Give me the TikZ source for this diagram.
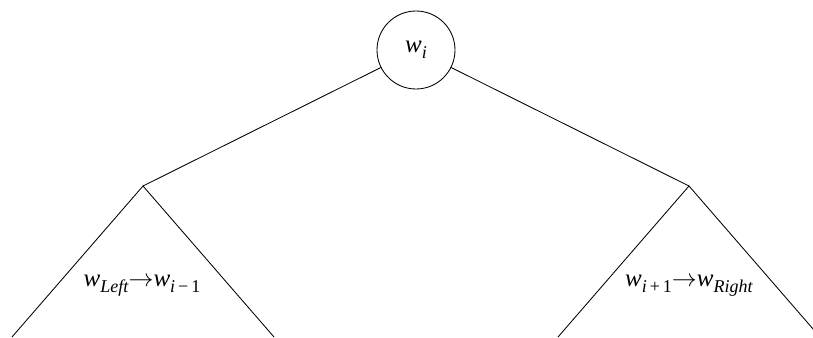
\documentclass[tikz,border=0pt]{standalone}
\usepackage{fontspec}
\setmainfont{Liberation Serif}
\newcommand{\mysub}[1]{\raisebox{-6pt}{\fontsize{18}{21}\selectfont #1}}
\newcommand{\mysym}[1]{\textit{#1}}
\begin{document}
\begin{tikzpicture}[x=1pt,y=-1pt,line width=0.85pt,
  lbl/.style={inner sep=0pt,font=\fontsize{25}{29}\selectfont},
  rootnode/.style={circle,draw,minimum size=78pt,inner sep=0pt,font=\fontsize{25}{29}\selectfont}]
\useasboundingbox (0,0) rectangle (813,337);
\clip (0,0) rectangle (813,337);
\node[rootnode] (root) at (416,50) {\mysym{w}\mysub{\textit{i}}};
\coordinate (L) at (143,186);
\coordinate (R) at (689,186);
\coordinate (L1) at (12,337);
\coordinate (L2) at (274,337);
\coordinate (R1) at (558,337);
\coordinate (R2) at (820,337);
\draw (root) -- (L);
\draw (root) -- (R);
\draw (L1) -- (L) -- (L2);
\draw (R1) -- (R) -- (R2);
\node[lbl] (lt) at (142,286) {\mysym{w}\mysub{\textit{Left}}$\rightarrow$\mysym{w}\mysub{\textit{i}\,−\,1}};
\node[lbl] (rt) at (689,286) {\mysym{w}\mysub{\textit{i}\,+\,1}$\rightarrow$\mysym{w}\mysub{\textit{Right}}};
\end{tikzpicture}
\end{document}
